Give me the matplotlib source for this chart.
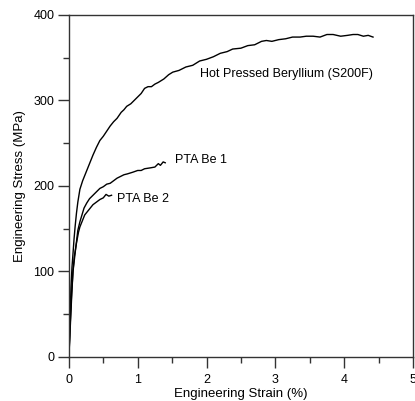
import matplotlib
matplotlib.use('Agg')
import matplotlib.pyplot as plt
from matplotlib.ticker import MultipleLocator

plt.rcParams['font.family'] = ['Liberation Sans', 'DejaVu Sans']

# кривые растяжения (деформация %, напряжение МПа)
hp_strain = [0.0, 0.01, 0.02, 0.03, 0.045, 0.06, 0.075, 0.09, 0.11, 0.13, 0.16, 0.2, 0.25, 0.3, 0.35,
             0.4, 0.45, 0.5, 0.55, 0.6, 0.65, 0.7, 0.76, 0.8, 0.84, 0.9, 0.95, 1.0, 1.05, 1.1, 1.15,
             1.2, 1.25, 1.3, 1.38, 1.45, 1.51, 1.6, 1.7, 1.8, 1.9, 2.0, 2.1, 2.2, 2.3, 2.38, 2.5,
             2.6, 2.7, 2.8, 2.87, 2.95, 3.05, 3.15, 3.25, 3.36, 3.45, 3.55, 3.65, 3.75, 3.84,
             3.95, 4.05, 4.13, 4.2, 4.28, 4.35, 4.42]
hp_stress = [0, 25, 52, 81, 105, 121, 138, 152, 168, 181, 196, 206, 216, 226, 236,
             245, 253, 258, 264, 270, 275, 279, 286, 289, 293, 296, 300, 304, 308, 314, 316,
             316, 319, 321, 325, 330, 333, 335, 339, 341, 346, 348, 351, 355, 357, 360, 361,
             364, 365, 369, 370, 369, 371, 372, 374, 374, 375, 375, 374, 377, 377,
             375, 376, 377, 377, 375, 376, 374]

be1_strain = [0.0, 0.02, 0.04, 0.06, 0.09, 0.13, 0.16, 0.19, 0.22, 0.26, 0.3, 0.35, 0.4, 0.45,
              0.5, 0.55, 0.6, 0.65, 0.7, 0.75, 0.8, 0.85, 0.93, 1.0, 1.05, 1.1, 1.18, 1.25,
              1.3, 1.33, 1.37, 1.4]
be1_stress = [0, 40, 75, 100, 121, 148, 158, 166, 174, 180, 185, 189, 193, 197,
              199, 202, 203, 206, 209, 211, 213, 214, 216, 218, 218, 220, 221, 222,
              226, 224, 228, 227]

be2_strain = [0.0, 0.02, 0.04, 0.06, 0.08, 0.11, 0.14, 0.16, 0.2, 0.23, 0.27, 0.31, 0.35,
              0.4, 0.45, 0.5, 0.54, 0.58, 0.62]
be2_stress = [0, 35, 70, 101, 118, 133, 146, 152, 160, 166, 170, 174, 178,
              181, 184, 186, 190, 188, 189]

fig = plt.figure(figsize=(4.15, 4.01), dpi=100)
ax = fig.add_axes([0.166, 0.110, 0.829, 0.853])

ax.plot(hp_strain, hp_stress, color='black', lw=1.0)
ax.plot(be1_strain, be1_stress, color='black', lw=1.0)
ax.plot(be2_strain, be2_stress, color='black', lw=1.0)

ax.text(1.9, 331, 'Hot Pressed Beryllium (S200F)', fontsize=9, va='center', ha='left')
ax.text(1.54, 230, 'PTA Be 1', fontsize=9, va='center', ha='left')
ax.text(0.7, 185, 'PTA Be 2', fontsize=9, va='center', ha='left')

ax.set_xlim(0, 5)
ax.set_ylim(0, 400)
ax.xaxis.set_major_locator(MultipleLocator(1))
ax.xaxis.set_minor_locator(MultipleLocator(0.5))
ax.yaxis.set_major_locator(MultipleLocator(100))
ax.yaxis.set_minor_locator(MultipleLocator(50))
ax.tick_params(which='major', direction='out', length=8, width=1.0, color='#333333',
               labelsize=9, pad=2.5)
ax.tick_params(axis='x', which='major', pad=4)
ax.tick_params(which='minor', direction='out', length=4, width=1.0, color='#333333')
ax.tick_params(axis='x', top=False, which='both')
ax.tick_params(axis='y', right=False, which='both')
for s in ax.spines.values():
    s.set_color('#333333')
    s.set_linewidth(1.0)

ax.set_xlabel('Engineering Strain (%)', fontsize=9.5, labelpad=2)
ax.set_ylabel('Engineering Stress (MPa)', fontsize=9.5, labelpad=5)

fig.savefig('out.png', dpi=100)
